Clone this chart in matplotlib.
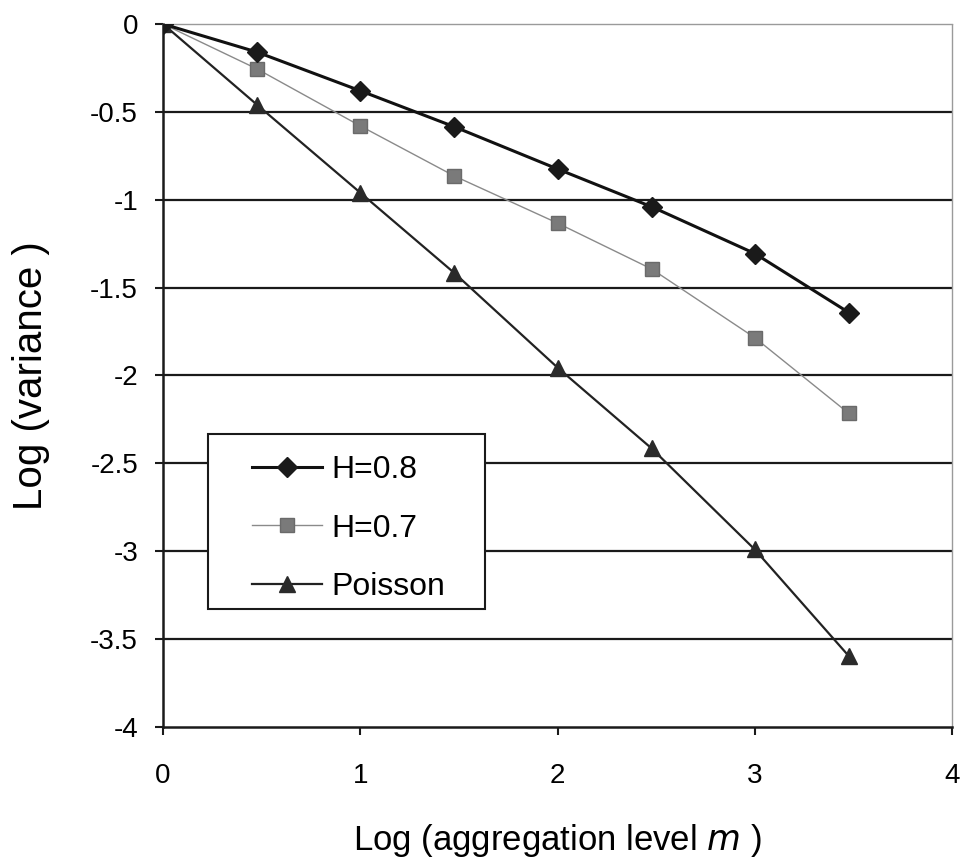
import numpy as np
import matplotlib.pyplot as plt
from matplotlib.patches import Rectangle

plt.rcParams['font.family'] = ['Liberation Sans', 'DejaVu Sans']

# aggregation level m = 1, 3, 10, 30, ... -> log10
log_m = [0, 0.477, 1.0, 1.477, 2.0, 2.477, 3.0, 3.477]
var_h08 = [0, -0.16, -0.38, -0.585, -0.825, -1.04, -1.306, -1.642]
var_h07 = [0, -0.256, -0.58, -0.865, -1.133, -1.394, -1.785, -2.216]
var_poisson = [0, -0.46, -0.96, -1.417, -1.955, -2.415, -2.99, -3.597]
labels = ['H=0.8', 'H=0.7', 'Poisson']

x_ticks = [0, 1, 2, 3, 4]
y_ticks = [0, -0.5, -1, -1.5, -2, -2.5, -3, -3.5, -4]

fig = plt.figure(figsize=(9.63, 8.6), dpi=100)
ax = fig.add_axes([0.1693, 0.1547, 0.8193, 0.8174])

# horizontal gridlines (the 0 line is the dotted top border)
for yv in y_ticks[1:-1]:
    ax.axhline(yv, color='#1a1a1a', lw=1.6, zorder=1)

ax.plot(log_m, var_h07, color='#8a8a8a', lw=1.0, marker='s', ms=10,
        mfc='#7a7a7a', mec='#6a6a6a', label=labels[1], zorder=3)
ax.plot(log_m, var_poisson, color='#222222', lw=1.6, marker='^', ms=12,
        mfc='#2a2a2a', mec='#2a2a2a', label=labels[2], zorder=3)
ax.plot(log_m, var_h08, color='#111111', lw=2.2, marker='D', ms=10,
        mfc='#1a1a1a', mec='#1a1a1a', label=labels[0], zorder=4)

ax.set_xlim(0, 4)
ax.set_ylim(-4, 0)
ax.set_xticks(x_ticks)
ax.set_yticks(y_ticks)
ax.set_xticklabels([str(v) for v in x_ticks])
ax.set_yticklabels(['0', '-0.5', '-1', '-1.5', '-2', '-2.5', '-3', '-3.5', '-4'])
ax.tick_params(axis='both', labelsize=20, direction='out', length=6,
               width=1.5, color='#1a1a1a')
ax.tick_params(axis='x', pad=20)
ax.tick_params(axis='y', pad=12)

for side in ['left', 'bottom']:
    ax.spines[side].set_color('#1a1a1a')
    ax.spines[side].set_linewidth(1.8)
for side in ['top', 'right']:
    ax.spines[side].set_color('#9a9a9a')
    ax.spines[side].set_linewidth(1.0)
    ax.spines[side].set_linestyle((0, (2, 1)))

ax.set_xlabel('Log (aggregation level $\\it{m}$ )', fontsize=25, labelpad=24)
ax.set_ylabel('Log (variance )', fontsize=29, labelpad=29)

handles, labs = ax.get_legend_handles_labels()
order = [2, 0, 1]
leg = ax.legend([handles[i] for i in order], [labs[i] for i in order],
                loc='upper left', bbox_to_anchor=(0.1128, 0.3870),
                fontsize=23, frameon=False, handlelength=2.2,
                handletextpad=0.28, labelspacing=0.9, borderpad=0,
                borderaxespad=0)
leg.set_zorder(6)

# legend frame with wider side padding, as in the original
fig.canvas.draw()
bb = leg.get_window_extent()
inv = ax.transAxes.inverted()
(x0, y0) = inv.transform((bb.x0 - 44, bb.y0 - 7))
(x1, y1) = inv.transform((bb.x1 + 40, bb.y1 + 21))
ax.add_patch(Rectangle((x0, y0), x1 - x0, y1 - y0, transform=ax.transAxes,
                       facecolor='white', edgecolor='#1a1a1a', lw=1.5,
                       zorder=5, clip_on=False))

fig.savefig('out.png', dpi=100)
